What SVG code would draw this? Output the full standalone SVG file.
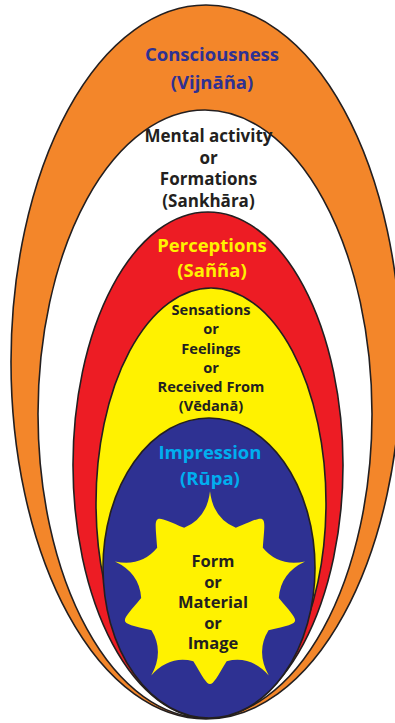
<svg xmlns="http://www.w3.org/2000/svg" width="395" height="723" viewBox="0 0 395 723">
<style>
.shell{stroke:#231f20;stroke-width:1.6}
.t{font-family:"Open Sans","Noto Sans","Liberation Sans",sans-serif;font-weight:bold;text-anchor:middle}
.big{font-size:18.5px}
.dark{fill:#231f20}
</style>
<rect x="0" y="0" width="395" height="723" fill="#ffffff"/>
<g id="consciousness">
<ellipse class="shell" cx="206" cy="362" rx="195" ry="357" fill="#f3862a"/>
<text class="t big" x="212" y="61" fill="#2e3192">Consciousness</text>
<text class="t big" x="212" y="89" fill="#2e3192">(Vijnāña)</text>
</g>
<g id="mental-activity">
<ellipse class="shell" cx="205" cy="414" rx="167" ry="304" fill="#ffffff"/>
<g class="t dark" style="font-size:17px">
<text x="208.5" y="142">Mental activity</text>
<text x="208.5" y="163.5">or</text>
<text x="208.5" y="185">Formations</text>
<text x="208.5" y="206.5">(Sankhāra)</text>
</g>
</g>
<g id="perceptions">
<ellipse class="shell" cx="208" cy="465" rx="135" ry="253" fill="#ed1c24"/>
<text class="t big" x="212" y="252" fill="#fff200">Perceptions</text>
<text class="t big" x="212" y="277" fill="#fff200">(Sañña)</text>
</g>
<g id="sensations">
<ellipse class="shell" cx="211" cy="503" rx="115" ry="215" fill="#fff200"/>
<g class="t dark" style="font-size:14.6px">
<text x="211" y="315">Sensations</text>
<text x="211" y="334">or</text>
<text x="211" y="353.5">Feelings</text>
<text x="211" y="373">or</text>
<text x="211" y="392">Received From</text>
<text x="211" y="411">(Vēdanā)</text>
</g>
</g>
<g id="impression">
<ellipse class="shell" cx="209" cy="568" rx="106" ry="150" fill="#2e3192"/>
<text class="t big" x="210" y="459" fill="#00aeef">Impression</text>
<text class="t big" x="210" y="485" fill="#00aeef">(Rūpa)</text>
</g>
<g id="form">
<path fill="#fff200" transform="translate(210,593) scale(1.03,1.05)" d="M0,-97 Q3,-71 25.1,-62.1 C56.71,-74.98 53.79,-77.1 51.3,-43.06 Q66.6,-24.79 92.26,-29.97 Q68.45,-19.09 66.82,4.68 C88.84,30.76 89.95,27.33 56.81,35.49 Q44.16,55.68 57.02,78.47 Q39.31,59.2 16.19,64.99 C-1.81,93.99 1.81,93.99 -16.19,64.99 Q-39.31,59.2 -57.02,78.47 Q-44.16,55.68 -56.81,35.49 C-89.95,27.33 -88.84,30.76 -66.82,4.68 Q-68.45,-19.09 -92.26,-29.97 Q-66.6,-24.79 -51.3,-43.06 C-53.79,-77.1 -56.71,-74.98 -25.1,-62.1 Q-3,-71 0,-97 Z"/>
<g class="t dark" style="font-size:16.5px">
<text x="213" y="567">Form</text>
<text x="213" y="587.5">or</text>
<text x="213" y="608">Material</text>
<text x="213" y="628.5">or</text>
<text x="213" y="649">Image</text>
</g>
</g>
<g id="connectors"/>
</svg>
